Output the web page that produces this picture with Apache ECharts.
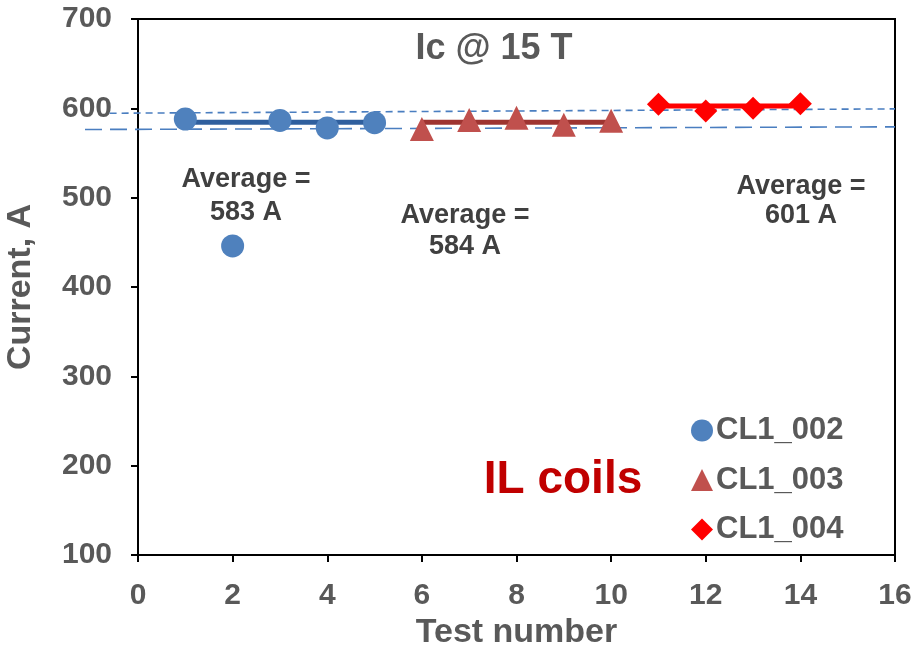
<!DOCTYPE html>
<html><head><meta charset="utf-8">
<script src="https://cdn.jsdelivr.net/npm/echarts@6/dist/echarts.min.js"></script>
<style>html,body{margin:0;padding:0;background:#fff}#c{width:914px;height:648px}</style>
</head><body><div id="c"></div>
<script>
// ---- data ----
const cl002X = [1, 2, 3, 4, 5];
const cl002Y = [588, 446, 586.5, 578, 584];
const cl003X = [6, 7, 8, 9, 10];
const cl003Y = [577, 587, 589.5, 581.5, 586];
const cl004X = [11, 12, 13, 14];
const cl004Y = [604.5, 597, 600, 605];
const avg002 = { x: [1, 5], y: 584.5 };
const avg003 = { x: [6, 10], y: 584.5 };
const avg004 = { x: [11, 14], y: 602.5 };
const upperTrendX = [-0.6, 16];
const upperTrendY = [594.5, 599.4];
const lowerTrendX = [-1.12, 16];
const lowerTrendY = [576.3, 579.3];
const seriesNames = ['CL1_002', 'CL1_003', 'CL1_004'];
const avgLabels = ['Average =\n583 A', 'Average =\n584 A', 'Average =\n601 A'];
const titleText = 'Ic @ 15 T';
const coilText = 'IL coils';

const zip = (xs, ys) => xs.map((x, i) => [x, ys[i]]);
const FONT = '"Liberation Sans", Arial, sans-serif';
const GRAY = '#595959';

function trendSeries(xs, ys, dash) {
  return {
    type: 'custom', clip: false, silent: true, z: 1,
    data: [[xs[0], ys[0], xs[1], ys[1]]],
    encode: { x: [0, 2], y: [1, 3] },
    renderItem: function (params, api) {
      const p1 = api.coord([api.value(0), api.value(1)]);
      const p2 = api.coord([api.value(2), api.value(3)]);
      return {
        type: 'line',
        shape: { x1: p1[0], y1: p1[1], x2: p2[0], y2: p2[1] },
        style: { stroke: '#4A7EC0', lineWidth: 1.6, lineDash: dash, fill: null }
      };
    }
  };
}

const chart = echarts.init(document.getElementById('c'));
chart.setOption({
  animation: false,
  grid: { left: 138, right: 19, top: 19, bottom: 93, show: true, borderColor: '#000', borderWidth: 2,
          containLabel: false, outerBoundsMode: 'none' },
  xAxis: {
    type: 'value', min: 0, max: 16, interval: 2,
    name: 'Test number', nameLocation: 'middle', nameGap: 60,
    nameTextStyle: { fontFamily: FONT, fontWeight: 'bold', fontSize: 34, color: GRAY },
    axisLine: { lineStyle: { color: '#000', width: 2 } },
    axisTick: { show: true, inside: false, length: 7, lineStyle: { color: '#000', width: 2 } },
    axisLabel: { fontFamily: FONT, fontWeight: 'bold', fontSize: 30, color: GRAY, margin: 26 },
    splitLine: { show: false }
  },
  yAxis: {
    type: 'value', min: 100, max: 700, interval: 100,
    name: 'Current, A', nameLocation: 'middle', nameGap: 100,
    nameTextStyle: { fontFamily: FONT, fontWeight: 'bold', fontSize: 34, color: GRAY },
    axisLine: { show: true, lineStyle: { color: '#000', width: 2 } },
    axisTick: { show: true, inside: false, length: 7, lineStyle: { color: '#000', width: 2 } },
    axisLabel: { fontFamily: FONT, fontWeight: 'bold', fontSize: 30, color: GRAY, margin: 26 },
    splitLine: { show: false }
  },
  legend: {
    data: seriesNames, orient: 'vertical', left: 686, top: 410,
    itemWidth: 22, itemHeight: 22, itemGap: 18.5,
    textStyle: { fontFamily: FONT, fontWeight: 'bold', fontSize: 31, color: GRAY, padding: [0, 0, 0, -2] }
  },
  graphic: [
    { type: 'text', x: 246, y: 0, style: { text: '' } },
    { type: 'text', x: 494, y: 49, style: { text: titleText, font: 'bold 36px ' + FONT, fill: GRAY, textAlign: 'center', textVerticalAlign: 'middle' } },
    { type: 'text', x: 246, y: 196, style: { text: avgLabels[0], font: 'bold 27px ' + FONT, fill: '#404040', textAlign: 'center', textVerticalAlign: 'middle', lineHeight: 33 } },
    { type: 'text', x: 465, y: 231, style: { text: avgLabels[1], font: 'bold 27px ' + FONT, fill: '#404040', textAlign: 'center', textVerticalAlign: 'middle', lineHeight: 31 } },
    { type: 'text', x: 801, y: 201, style: { text: avgLabels[2], font: 'bold 27px ' + FONT, fill: '#404040', textAlign: 'center', textVerticalAlign: 'middle', lineHeight: 29 } },
    { type: 'text', x: 563, y: 480, style: { text: coilText, font: 'bold 46px ' + FONT, fill: '#C00000', textAlign: 'center', textVerticalAlign: 'middle' } }
  ],
  series: [
    trendSeries(upperTrendX, upperTrendY, [7, 5]),
    trendSeries(lowerTrendX, lowerTrendY, [17, 8]),
    { type: 'line', data: [[avg002.x[0], avg002.y], [avg002.x[1], avg002.y]], symbol: 'none', z: 2,
      lineStyle: { color: '#2F5F9E', width: 5 } },
    { type: 'line', data: [[avg003.x[0], avg003.y], [avg003.x[1], avg003.y]], symbol: 'none', z: 2,
      lineStyle: { color: '#9E3431', width: 5 } },
    { type: 'line', data: [[avg004.x[0], avg004.y], [avg004.x[1], avg004.y]], symbol: 'none', z: 2,
      lineStyle: { color: '#FF0000', width: 5 } },
    { name: seriesNames[0], type: 'scatter', data: zip(cl002X, cl002Y), symbol: 'circle', symbolSize: 23, z: 3,
      itemStyle: { color: '#4F81BD', opacity: 1 } },
    { name: seriesNames[1], type: 'scatter', data: zip(cl003X, cl003Y), symbol: 'triangle', symbolSize: 24, z: 3,
      itemStyle: { color: '#C0504D', opacity: 1 } },
    { name: seriesNames[2], type: 'scatter', data: zip(cl004X, cl004Y), symbol: 'diamond', symbolSize: 23, z: 3,
      itemStyle: { color: '#FF0000', opacity: 1 } }
  ]
});
</script>
</body></html>
